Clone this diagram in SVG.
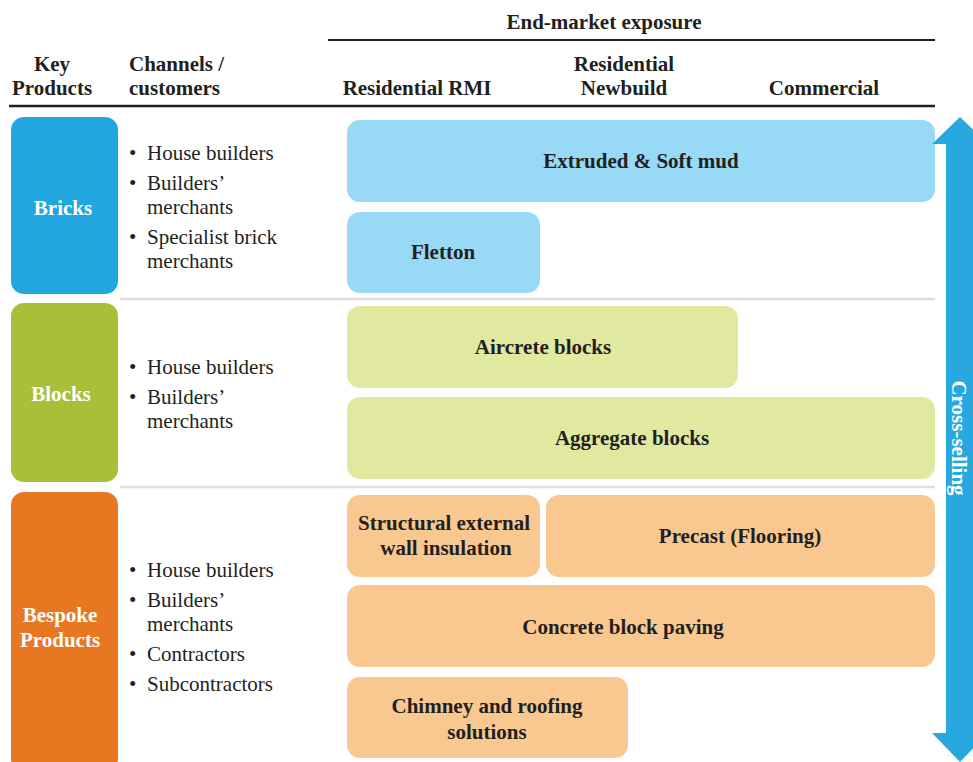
<svg xmlns="http://www.w3.org/2000/svg" width="973" height="762" viewBox="0 0 973 762">
<style>
.h{font-weight:bold;font-size:21px;fill:#231F20;text-anchor:middle}
.hl{font-weight:bold;font-size:21px;fill:#231F20}
.b{font-size:21px;fill:#231F20}
.k{font-weight:bold;font-size:21px;fill:#FFFFFF;text-anchor:middle}
.p{font-weight:bold;font-size:21px;fill:#231F20;text-anchor:middle}
.sep{stroke:#DCDDDE;stroke-width:2.5}
.blue{fill:#98D9F6}
.green{fill:#E1E9A1}
.orange{fill:#F9C891}
</style>
<rect width="973" height="762" fill="#FFFFFF"/>
<g font-family="Liberation Serif, DejaVu Serif, serif">
<g id="header">
<text class="h" x="604" y="29">End-market exposure</text>
<line x1="328" y1="40" x2="935" y2="40" stroke="#231F20" stroke-width="2"/>
<text class="h" x="52" y="71">Key</text>
<text class="h" x="52" y="95">Products</text>
<text class="hl" x="129" y="71">Channels /</text>
<text class="hl" x="129" y="95">customers</text>
<text class="h" x="417" y="95">Residential RMI</text>
<text class="h" x="624" y="71">Residential</text>
<text class="h" x="624" y="95">Newbuild</text>
<text class="h" x="824" y="95">Commercial</text>
<line x1="9" y1="106" x2="935" y2="106" stroke="#231F20" stroke-width="2.5"/>
</g>
<g id="separators">
<line class="sep" x1="120" y1="299" x2="935" y2="299"/>
<line class="sep" x1="120" y1="487" x2="935" y2="487"/>
</g>
<g id="bricks">
<rect x="11" y="117" width="107" height="177" rx="13" fill="#22A6E0"/>
<text class="k" x="63" y="215">Bricks</text>
</g>
<g id="bricks-channels">
<text class="b" x="129" y="160">•</text><text class="b" x="147" y="160">House builders</text>
<text class="b" x="129" y="190">•</text><text class="b" x="147" y="190">Builders’</text>
<text class="b" x="147" y="214">merchants</text>
<text class="b" x="129" y="244">•</text><text class="b" x="147" y="244">Specialist brick</text>
<text class="b" x="147" y="268">merchants</text>
</g>
<g id="blocks">
<rect x="11" y="303" width="107" height="179" rx="13" fill="#AABF38"/>
<text class="k" x="61" y="401">Blocks</text>
</g>
<g id="blocks-channels">
<text class="b" x="129" y="374">•</text><text class="b" x="147" y="374">House builders</text>
<text class="b" x="129" y="404">•</text><text class="b" x="147" y="404">Builders’</text>
<text class="b" x="147" y="428">merchants</text>
</g>
<g id="bespoke">
<rect x="11" y="492" width="107" height="280" rx="13" fill="#E87722"/>
<text class="k" x="60" y="622">Bespoke</text>
<text class="k" x="60" y="647">Products</text>
</g>
<g id="bespoke-channels">
<text class="b" x="129" y="577">•</text><text class="b" x="147" y="577">House builders</text>
<text class="b" x="129" y="607">•</text><text class="b" x="147" y="607">Builders’</text>
<text class="b" x="147" y="631">merchants</text>
<text class="b" x="129" y="661">•</text><text class="b" x="147" y="661">Contractors</text>
<text class="b" x="129" y="691">•</text><text class="b" x="147" y="691">Subcontractors</text>
</g>
<g id="extruded">
<rect class="blue" x="347" y="120" width="588" height="82" rx="13"/>
<text class="p" x="641" y="168">Extruded &amp; Soft mud</text>
</g>
<g id="fletton">
<rect class="blue" x="347" y="212" width="193" height="81" rx="13"/>
<text class="p" x="443" y="259">Fletton</text>
</g>
<g id="aircrete">
<rect class="green" x="347" y="306" width="391" height="82" rx="13"/>
<text class="p" x="543" y="354">Aircrete blocks</text>
</g>
<g id="aggregate">
<rect class="green" x="347" y="397" width="588" height="82" rx="13"/>
<text class="p" x="632" y="445">Aggregate blocks</text>
</g>
<g id="structural">
<rect class="orange" x="347" y="495" width="193" height="82" rx="13"/>
<text class="p" x="444" y="530">Structural external</text>
<text class="p" x="446" y="555">wall insulation</text>
</g>
<g id="precast">
<rect class="orange" x="546" y="495" width="389" height="82" rx="13"/>
<text class="p" x="740" y="543">Precast (Flooring)</text>
</g>
<g id="paving">
<rect class="orange" x="347" y="585" width="588" height="82" rx="13"/>
<text class="p" x="623" y="634">Concrete block paving</text>
</g>
<g id="chimney">
<rect class="orange" x="347" y="677" width="281" height="81" rx="13"/>
<text class="p" x="487" y="713">Chimney and roofing</text>
<text class="p" x="487" y="739">solutions</text>
</g>
<g id="connectors">
<g id="cross-selling">
<polygon points="960,117 988,144 973,144 973,733 988,733 960,762 932,733 946,733 946,144 932,144" fill="#29A8E0"/>
<text class="k" transform="translate(952,438) rotate(90)" x="0" y="0">Cross-selling</text>
</g>
</g>
</g>
</svg>
